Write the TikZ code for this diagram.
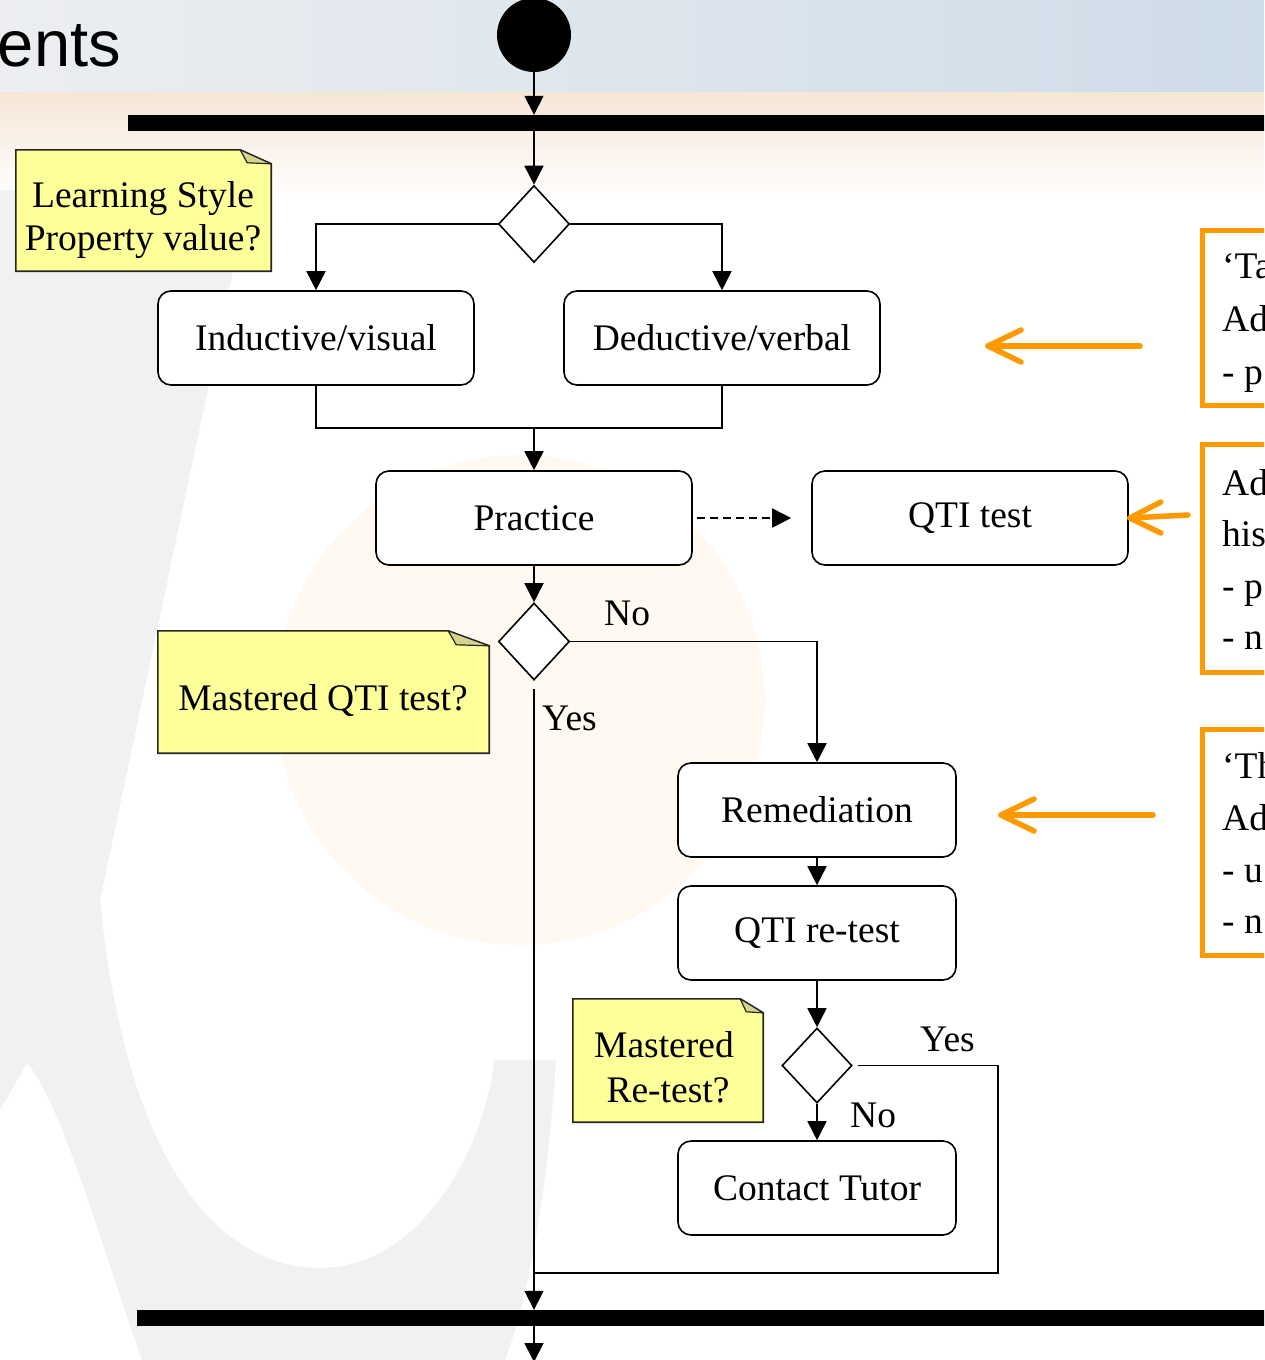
\documentclass[tikz,border=0pt]{standalone}
\usepackage{fontspec}
\setmainfont{Liberation Serif}
\newfontfamily\titlefont{Liberation Sans}
\usetikzlibrary{arrows.meta,shapes.geometric}
\definecolor{noteyellow}{HTML}{FFFF99}
\definecolor{noteear}{HTML}{D4D48C}
\definecolor{orng}{HTML}{FF9900}
\definecolor{topL}{HTML}{ECEEF1}
\definecolor{topR}{HTML}{CEDCE8}
\definecolor{peach}{HTML}{F6E6D6}
\definecolor{wmgray}{HTML}{F1F1F1}
\definecolor{wmorange}{HTML}{FFF9F2}
\begin{document}
\begin{tikzpicture}[x=1pt,y=-1pt,
  txt/.style={font=\fontsize{37.5}{44}\selectfont, inner sep=0pt},
  act/.style={draw, line width=1.6pt, rounded corners=13pt, fill=white, minimum width=316pt, minimum height=94pt, inner sep=0pt, font=\fontsize{37.5}{44}\selectfont},
  dec/.style={draw, shape=diamond, line width=1.6pt, fill=white, minimum width=71pt, minimum height=77pt, inner sep=0pt},
  bar/.style={fill=black, minimum height=16pt, inner sep=0pt},
  conn/.style={line width=1.6pt},
  flow/.style={conn, -{Triangle[length=19pt,width=19pt]}},
  notebox/.style={inner sep=0pt},
  notefill/.style={fill=noteyellow, draw=black!85, line width=1.6pt},
  earfill/.style={fill=noteear, draw=black!85, line width=1.2pt, line join=round},
  obox/.style={draw=orng, line width=5pt, fill=white, inner sep=0pt},
  oline/.style={draw=orng, line width=5.5pt, line cap=round, line join=round},
]
\useasboundingbox (0,0) rectangle (1264,1360);
\clip (0,0) rectangle (1264,1360);
% background
\fill[white] (0,0) rectangle (1264,1360);
\fill[left color=topL, right color=topR] (0,0) rectangle (1264,92);
\fill[top color=peach, bottom color=white] (0,92) rectangle (1264,200);
\fill[wmorange] (520,700) circle[radius=245];
\fill[wmgray] (0,190) -- (250,190) -- (100,900) .. controls (130,1200) and (240,1268) .. (320,1268) .. controls (420,1268) and (485,1150) .. (494,1060) -- (556,1060) .. controls (545,1230) and (520,1320) .. (505,1360) -- (142,1360) .. controls (100,1240) and (60,1100) .. (27,1063) -- (0,1110) -- cycle;
\node[font=\titlefont\fontsize{65}{70}\selectfont, anchor=base east, inner sep=0pt] (title) at (121,66) {ents};

% diagram nodes
\node[fill=black, circle, minimum size=74pt, inner sep=0pt] (start) at (534,35) {};
\node[bar, minimum width=1200pt] (bar1) at (728,123) {};
\node[dec] (d1) at (534,224) {};
\node[act] (ind) at (316,338) {Inductive/visual};
\node[act] (ded) at (722,338) {Deductive/verbal};
\coordinate (merge) at (534,428);
\node[act] (prac) at (534,518) {Practice};
\node[act] (qti) at (970,518) {QTI test};
\node[dec] (d2) at (534,641.5) {};
\node[act, minimum width=278pt] (rem) at (817,810) {Remediation};
\node[act, minimum width=278pt] (retest) at (817,933) {QTI re-test};
\node[dec, minimum width=70pt, minimum height=75pt] (d3) at (817,1065.5) {};
\node[act, minimum width=278pt] (tutor) at (817,1188) {Contact Tutor};
\node[bar, minimum width=1200pt] (bar2) at (737,1318) {};
\coordinate (endc) at (534,1362);
\coordinate (yesr) at (998,1273);

% connectors
\draw[flow] (start) -- (start |- bar1.north);
\draw[flow] (bar1.south -| d1.north) -- (d1.north);
\draw[flow] (d1.west) -| (ind.north);
\draw[flow] (d1.east) -| (ded.north);
\draw[conn] (ind.south) |- (merge) -| (ded.south);
\draw[flow] (merge) -- (merge |- prac.north);
\draw[flow, dash pattern=on 8pt off 5pt] ([xshift=4pt]prac.east) -- ([xshift=-20pt]qti.west);
\draw[flow] (prac.south) -- (d2.north);
\draw[flow] (d2.east) -| (rem.north);
\draw[flow] ([yshift=-8pt]d2.south) -- (d2.south |- bar2.north);
\draw[flow] (rem) -- (retest);
\draw[flow] (retest) -- (d3);
\draw[flow] (d3) -- (tutor);
\draw[conn] ([xshift=5pt]d3.east) -| (yesr) -- (yesr -| d2.south);
\draw[flow] (bar2.south -| d2.south) -- (endc);

% labels
\node[txt, anchor=base west] (lno1) at (604,625) {No};
\node[txt, anchor=base west] (lyes1) at (542,730) {Yes};
\node[txt, anchor=base west] (lyes2) at (920,1051) {Yes};
\node[txt, anchor=base west] (lno2) at (850,1127) {No};

% notes
\node[notebox, minimum width=255pt, minimum height=121pt] (note1) at (143.5,210.5) {};
\filldraw[notefill] (note1.north west) -- ([xshift=-31pt]note1.north east) -- ([yshift=-14pt]note1.north east) -- (note1.south east) -- (note1.south west) -- cycle;
\filldraw[earfill] ([xshift=-31pt]note1.north east) -- ([xshift=-24pt,yshift=-13pt]note1.north east) -- ([yshift=-14pt]note1.north east) -- cycle;
\node[txt, anchor=base] (n1a) at (143,207) {Learning Style};
\node[txt, anchor=base] (n1b) at (143,250) {Property value?};

\node[notebox, minimum width=331pt, minimum height=122pt] (note2) at (323.5,692) {};
\filldraw[notefill] (note2.north west) -- ([xshift=-41pt]note2.north east) -- ([yshift=-15pt]note2.north east) -- (note2.south east) -- (note2.south west) -- cycle;
\filldraw[earfill] ([xshift=-41pt]note2.north east) -- ([xshift=-33pt,yshift=-14pt]note2.north east) -- ([yshift=-15pt]note2.north east) -- cycle;
\node[txt, anchor=base] (n2a) at (323,710) {Mastered QTI test?};

\node[notebox, minimum width=190pt, minimum height=123pt] (note3) at (668,1060.5) {};
\filldraw[notefill] (note3.north west) -- ([xshift=-23pt]note3.north east) -- ([yshift=-14pt]note3.north east) -- (note3.south east) -- (note3.south west) -- cycle;
\filldraw[earfill] ([xshift=-23pt]note3.north east) -- ([xshift=-17pt,yshift=-13pt]note3.north east) -- ([yshift=-14pt]note3.north east) -- cycle;
\node[txt, anchor=base] (n3a) at (664,1057) {Mastered};
\node[txt, anchor=base] (n3b) at (668,1102) {Re-test?};

% orange boxes
\node[obox, anchor=north west, minimum width=200pt, minimum height=175.5pt] (ob1) at (1199.5,227.5) {};
\node[obox, anchor=north west, minimum width=200pt, minimum height=228pt] (ob2) at (1199.5,442) {};
\node[obox, anchor=north west, minimum width=200pt, minimum height=226pt] (ob3) at (1199.5,727) {};
\node[txt, anchor=base west] (o1a) at (1222,278) {‘Ta};
\node[txt, anchor=base west] (o1b) at (1222,331) {Ad};
\node[txt, anchor=base west] (o1c) at (1222,384) {- p};
\node[txt, anchor=base west] (o2a) at (1222,495) {Ad};
\node[txt, anchor=base west] (o2b) at (1222,546) {his};
\node[txt, anchor=base west] (o2c) at (1222,598) {- p};
\node[txt, anchor=base west] (o2d) at (1222,649) {- n};
\node[txt, anchor=base west] (o3a) at (1222,778) {‘Th};
\node[txt, anchor=base west] (o3b) at (1222,830) {Ad};
\node[txt, anchor=base west] (o3c) at (1222,882) {- u};
\node[txt, anchor=base west] (o3d) at (1222,933) {- n};

% orange arrows (open heads drawn as strokes)
\coordinate (oa1s) at (1140,346);
\coordinate (oa1e) at (988,346);
\coordinate (oa2s) at (1188,515);
\coordinate (oa2e) at ([xshift=1pt]qti.east);
\coordinate (oa3s) at (1153,815);
\coordinate (oa3e) at (1001,815);
\draw[oline] (oa1s) -- (oa1e);
\draw[oline] ([xshift=33pt,yshift=16pt]oa1e) -- (oa1e) -- ([xshift=33pt,yshift=-16pt]oa1e);
\draw[oline] (oa2s) -- (oa2e);
\draw[oline] ([xshift=31pt,yshift=16pt]oa2e) -- (oa2e) -- ([xshift=31pt,yshift=-15pt]oa2e);
\draw[oline] (oa3s) -- (oa3e);
\draw[oline] ([xshift=33pt,yshift=16pt]oa3e) -- (oa3e) -- ([xshift=33pt,yshift=-16pt]oa3e);
\end{tikzpicture}
\end{document}
